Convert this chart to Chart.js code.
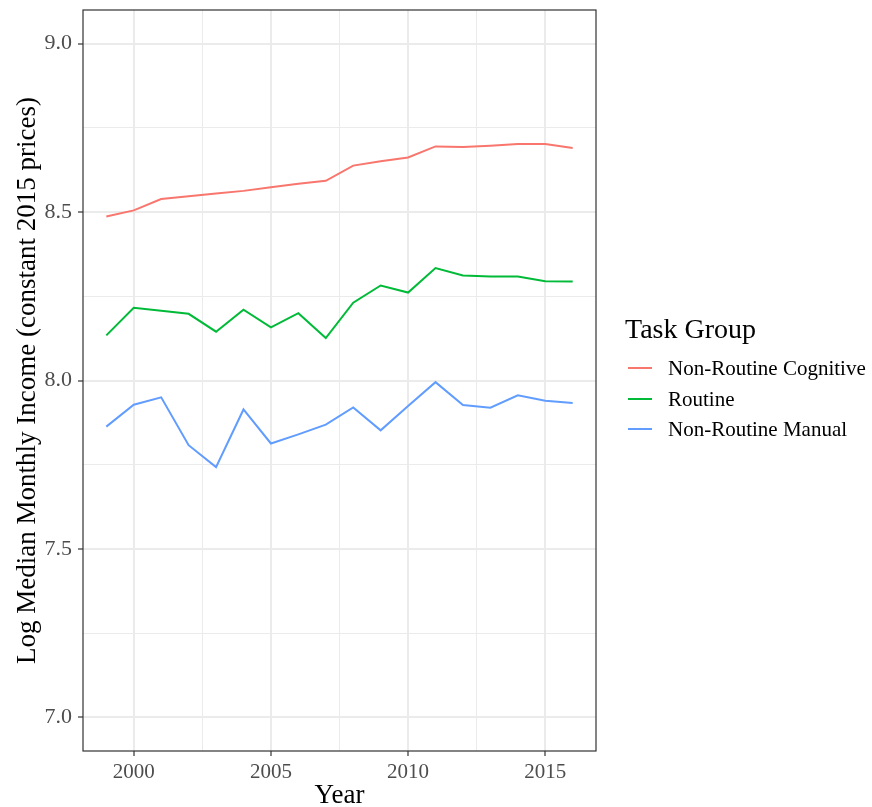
<!DOCTYPE html>
<html>
<head>
<meta charset="utf-8">
<script src="https://cdn.jsdelivr.net/npm/chart.js@4/dist/chart.umd.min.js"></script>
<style>
html,body{margin:0;padding:0;background:#fff;}
#wrap{position:relative;width:872px;height:807px;}
#legend{position:absolute;left:625px;top:313px;font-family:"Liberation Serif",serif;color:#000;}
#legend .title{font-size:28px;line-height:32px;height:32px;margin-bottom:8px;}
#legend .item{position:relative;height:30.5px;line-height:30px;font-size:21px;padding-left:43px;white-space:nowrap;}
#legend .sw{position:absolute;left:3px;top:14px;width:24px;height:2px;}
</style>
</head>
<body>
<div id="wrap">
<canvas id="c"></canvas>
<div id="legend"></div>
</div>
<script>
const years = [1999,2000,2001,2002,2003,2004,2005,2006,2007,2008,2009,2010,2011,2012,2013,2014,2015,2016];
const nonRoutineCognitive = [8.487,8.505,8.539,8.547,8.555,8.563,8.574,8.584,8.593,8.638,8.651,8.662,8.695,8.693,8.697,8.702,8.702,8.690];
const routine = [8.134,8.216,8.207,8.198,8.145,8.210,8.158,8.200,8.126,8.231,8.282,8.261,8.334,8.312,8.309,8.309,8.295,8.294];
const nonRoutineManual = [7.863,7.928,7.950,7.808,7.743,7.914,7.813,7.840,7.869,7.920,7.852,7.924,7.995,7.927,7.919,7.956,7.940,7.933];
const seriesNames = ["Non-Routine Cognitive","Routine","Non-Routine Manual"];
const seriesColors = ["#F8766D","#00BA38","#619CFF"];
const xMajorTicks = [2000,2005,2010,2015];
const xMinorTicks = [2002.5,2007.5,2012.5];
const yMajorTicks = [7.0,7.5,8.0,8.5,9.0];
const yMinorTicks = [7.25,7.75,8.25,8.75];

const FONT = "'Liberation Serif', 'Times New Roman', serif";
const allSeries = [nonRoutineCognitive, routine, nonRoutineManual];

const datasets = allSeries.map((vals, i) => ({
  label: seriesNames[i],
  data: years.map((yr, j) => ({x: yr, y: vals[j]})),
  borderColor: seriesColors[i],
  backgroundColor: seriesColors[i],
  borderWidth: 2,
  pointRadius: 0,
  tension: 0,
  fill: false
}));

function isMajor(list, v){ return list.some(m => Math.abs(m - v) < 1e-6); }

const panelBorder = {
  id: 'panelBorder',
  afterDraw(chart){
    const {ctx, chartArea:a} = chart;
    ctx.save();
    ctx.strokeStyle = '#333333';
    ctx.lineWidth = 1.2;
    ctx.strokeRect(a.left, a.top, a.right - a.left, a.bottom - a.top);
    ctx.restore();
  }
};

new Chart(document.getElementById('c'), {
  type: 'line',
  data: { datasets },
  options: {
    responsive: true,
    maintainAspectRatio: false,
    animation: false,
    layout: { padding: { top: 10, right: 276, bottom: 0, left: 0 } },
    plugins: { legend: { display: false }, tooltip: { enabled: false } },
    scales: {
      x: {
        type: 'linear',
        min: 1998.15,
        max: 2016.85,
        afterBuildTicks: s => { s.ticks = [...xMajorTicks, ...xMinorTicks].sort((a,b)=>a-b).map(v => ({value: v})); },
        afterFit: s => { s.height = 56; s.paddingLeft = 0; s.paddingRight = 0; },
        border: { display: false },
        grid: {
          color: '#ebebeb',
          lineWidth: c => isMajor(xMajorTicks, c.tick.value) ? 2 : 1,
          drawTicks: true,
          tickLength: 5,
          tickWidth: 1.2,
          tickColor: c => isMajor(xMajorTicks, c.tick.value) ? '#333333' : 'rgba(0,0,0,0)'
        },
        ticks: {
          autoSkip: false,
          maxRotation: 0,
          padding: 4,
          color: '#4d4d4d',
          font: { family: FONT, size: 21 },
          callback: v => isMajor(xMajorTicks, v) ? String(Math.round(v)) : ''
        },
        title: {
          display: true,
          text: 'Year',
          color: '#000',
          font: { family: FONT, size: 27, lineHeight: 1 },
          padding: { top: 0, bottom: -2 }
        }
      },
      y: {
        type: 'linear',
        min: 6.9,
        max: 9.1,
        afterBuildTicks: s => { s.ticks = [...yMajorTicks, ...yMinorTicks].sort((a,b)=>a-b).map(v => ({value: v})); },
        afterFit: s => { s.width = 83; s.paddingTop = 0; s.paddingBottom = 0; },
        border: { display: false },
        grid: {
          color: '#ebebeb',
          lineWidth: c => isMajor(yMajorTicks, c.tick.value) ? 2 : 1,
          drawTicks: true,
          tickLength: 5,
          tickWidth: 1.2,
          tickColor: c => isMajor(yMajorTicks, c.tick.value) ? '#333333' : 'rgba(0,0,0,0)'
        },
        ticks: {
          autoSkip: false,
          padding: 6,
          color: '#4d4d4d',
          font: { family: FONT, size: 22 },
          callback: v => isMajor(yMajorTicks, v) ? Number(v).toFixed(1) : ''
        },
        title: {
          display: true,
          text: 'Log Median Monthly Income (constant 2015 prices)',
          color: '#000',
          font: { family: FONT, size: 27, lineHeight: 1 },
          padding: { top: 14, bottom: 0 }
        }
      }
    }
  },
  plugins: [panelBorder]
});

const lg = document.getElementById('legend');
const t = document.createElement('div');
t.className = 'title';
t.textContent = 'Task Group';
lg.appendChild(t);
seriesNames.forEach((n, i) => {
  const it = document.createElement('div');
  it.className = 'item';
  const sw = document.createElement('span');
  sw.className = 'sw';
  sw.style.background = seriesColors[i];
  it.appendChild(sw);
  it.appendChild(document.createTextNode(n));
  lg.appendChild(it);
});
</script>
</body>
</html>
